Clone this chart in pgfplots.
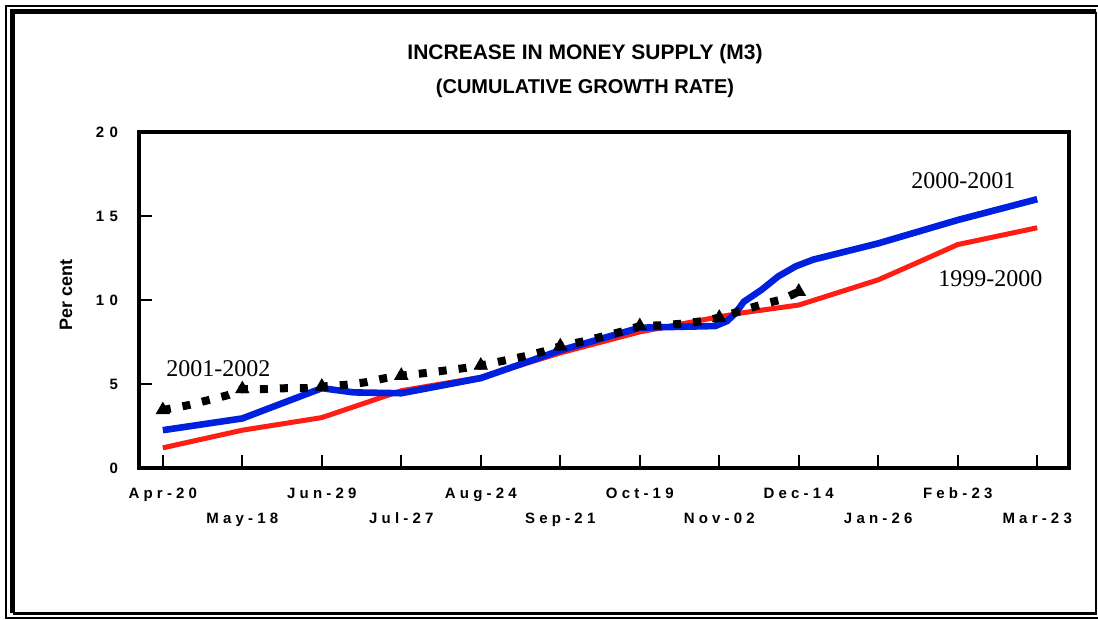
\documentclass[border=0pt]{standalone}
\usepackage{fontspec}
\setmainfont{Liberation Sans}
\newfontfamily\tnr{Liberation Serif}
\newfontfamily\spaced[LetterSpace=28]{Liberation Sans}
\newfontfamily\spacedy[LetterSpace=36]{Liberation Sans}
\usepackage{pgfplots}
\pgfplotsset{compat=1.18}
\definecolor{serred}{RGB}{255,30,20}
\definecolor{serblue}{RGB}{0,32,224}
\newcommand{\tl}{\spaced\bfseries\fontsize{7.5}{12.5}\selectfont}
\newcommand{\yl}{\spacedy\bfseries\fontsize{7.5}{9}\selectfont}

\begin{document}
\begin{tikzpicture}
\useasboundingbox (0,0) rectangle (549pt,310pt);
% outer frame
\draw[line width=1pt] (3pt,1pt) rectangle (552pt,307pt);
\draw[line width=2.5pt] (6.25pt,3.25pt) -- (6.25pt,304pt) -- (548pt,304pt);
\draw[line width=1.2pt] (6.25pt,3.25pt) -- (548pt,3.25pt) -- (548pt,304pt);
% title
\node[anchor=base] at (292.5pt,280pt) {\bfseries\fontsize{10.5}{12}\selectfont INCREASE IN MONEY SUPPLY (M3)};
\node[anchor=base] at (292.5pt,263pt) {\bfseries\fontsize{10}{12}\selectfont (CUMULATIVE GROWTH RATE)};

\begin{axis}[at={(69.5pt,76pt)}, anchor=south west, scale only axis,
  width=465pt, height=168pt,
  xmin=-0.3, xmax=11.4, ymin=0, ymax=20,
  axis line style={line width=2pt},
  tick style={line width=1pt, black},
  tick align=inside, major tick length=6.5pt,
  xtick pos=bottom, ytick pos=left,
  xtick={0,...,11},
  xticklabels={{\strut Apr-20},{\strut\\May-18},{\strut Jun-29},{\strut\\Jul-27},{\strut Aug-24},{\strut\\Sep-21},{\strut Oct-19},{\strut\\Nov-02},{\strut Dec-14},{\strut\\Jan-26},{\strut Feb-23},{\strut\\Mar-23}},
  xticklabel style={align=center, font=\tl, yshift=-3.2pt},
  ytick={0,5,10,15,20},
  yticklabels={0,5,10,15,20},
  yticklabel style={font=\yl, xshift=-7pt},
  ylabel={Per cent},
  ylabel style={at={(axis description cs:-0.0785,0.515)}, anchor=center, font=\bfseries\fontsize{9}{11}\selectfont},
  clip=false,
]
% 1999-2000
\addplot[serred, line width=2.5pt] coordinates {
(0,1.2) (1,2.25) (2,3.0) (3,4.6) (4,5.4) (5,6.85) (6,8.1) (7,9.0) (7.31,9.25) (8,9.7) (9,11.2) (9.48,12.2) (10,13.3) (11,14.3)};
% 2000-2001
\addplot[serblue, line width=3.3pt] coordinates {
(0,2.25) (1,2.95) (2,4.75) (2.4,4.5) (3,4.45) (4,5.35) (5,7.0) (6,8.35) (6.95,8.45) (7.1,8.75) (7.2,9.2) (7.31,9.9) (7.53,10.6) (7.74,11.4) (7.96,12.0) (8.18,12.4) (9,13.37) (10,14.76) (11,16.0)};
% 2001-2002
\addplot[black, line width=4pt, dash pattern=on 4pt off 6pt] coordinates {
(0,3.45) (0.33,3.75) (0.58,4.05) (0.83,4.35) (1,4.7) (1.3,4.7) (1.55,4.75) (1.8,4.75) (2,4.85) (2.3,4.95) (2.55,5.1) (2.8,5.35) (3,5.5) (3.3,5.65) (3.55,5.8) (3.8,5.95) (4,6.1) (4.3,6.4) (4.55,6.65) (4.8,6.95) (5,7.25) (5.3,7.55) (5.55,7.85) (5.8,8.15) (6,8.45) (6.3,8.5) (6.55,8.6) (6.8,8.75) (7,8.95) (7.3,9.4) (7.55,9.75) (7.8,10.05) (8,10.5)};
\addplot[only marks, mark=triangle*, mark size=3.8pt, black] coordinates {
(0,3.45) (1,4.7) (2,4.85) (3,5.5) (4,6.1) (5,7.25) (6,8.45) (7,8.95) (8,10.5)};
\node[font=\tnr\fontsize{12}{14}\selectfont] at (axis cs:0.70,5.9) {2001-2002};
\node[font=\tnr\fontsize{12}{14}\selectfont] at (axis cs:10.07,17.1) {2000-2001};
\node[font=\tnr\fontsize{12}{14}\selectfont] at (axis cs:10.41,11.25) {1999-2000};
\end{axis}
\end{tikzpicture}
\end{document}
